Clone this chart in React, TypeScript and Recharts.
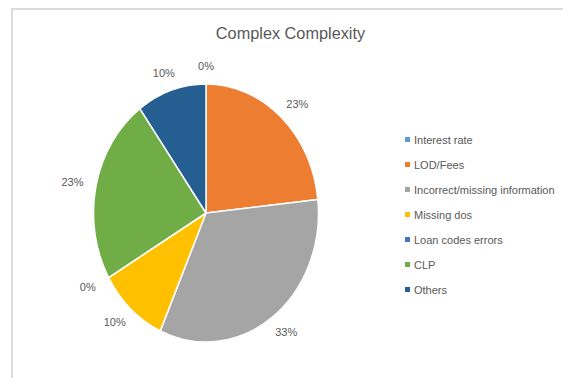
import React from "react";
import { PieChart, Pie, Cell, Legend } from "recharts";

const categories = [
  "Interest rate",
  "LOD/Fees",
  "Incorrect/missing information",
  "Missing dos",
  "Loan codes errors",
  "CLP",
  "Others",
];
const counts = [0, 7, 10, 3, 0, 7, 3];
const colors = ["#5B9BD5", "#ED7D31", "#A5A5A5", "#FFC000", "#4472C4", "#70AD47", "#255E91"];
const title = "Complex Complexity";

const data = categories.map((name, i) => ({ name, value: counts[i] }));

const Y_STRETCH = 1.147;
const FONT = "'Liberation Sans', Arial, sans-serif";
const RAD = Math.PI / 180;

const EllipseSector = (props: any) => {
  const { cx, cy, outerRadius, startAngle, endAngle, fill } = props;
  const rx = outerRadius;
  const ry = outerRadius * Y_STRETCH;
  const p = (a: number) => [cx + rx * Math.cos(a * RAD), cy - ry * Math.sin(a * RAD)];
  const [x1, y1] = p(startAngle);
  const [x2, y2] = p(endAngle);
  const span = Math.abs(endAngle - startAngle);
  const large = span > 180 ? 1 : 0;
  const sweep = startAngle > endAngle ? 1 : 0;
  const d = `M${cx},${cy} L${x1},${y1} A${rx},${ry} 0 ${large} ${sweep} ${x2},${y2} Z`;
  return <path d={d} fill={fill} stroke="#ffffff" strokeWidth={1.5} strokeLinejoin="round" />;
};

const renderLabel = (props: any) => {
  const { cx, cy, midAngle, outerRadius, percent } = props;
  const rx = outerRadius + 24;
  const ry = outerRadius * Y_STRETCH + 18;
  const x = cx + rx * Math.cos(midAngle * RAD);
  const y = cy - ry * Math.sin(midAngle * RAD);
  return (
    <g>
      <text
        x={x}
        y={y}
        textAnchor="middle"
        dominantBaseline="central"
        style={{ fill: "#595959", stroke: "none" }}
        fontSize={11}
        fontFamily={FONT}
      >
        {`${Math.round(percent * 100)}%`}
      </text>
    </g>
  );
};

const LegendContent = () => (
  <div style={{ fontFamily: FONT, fontSize: 11, color: "#595959" }}>
    {categories.map((c, i) => (
      <div key={c} style={{ display: "flex", alignItems: "center", height: 25 }}>
        <span
          style={{
            display: "inline-block",
            width: 5,
            height: 5,
            background: colors[i],
            marginRight: 4,
          }}
        />
        <span>{c}</span>
      </div>
    ))}
  </div>
);

export default function App() {
  return (
    <div style={{ position: "absolute", left: 0, top: 0, width: 563, height: 378, background: "#fff", overflow: "hidden" }}>
      <div
        style={{
          position: "absolute",
          left: 11,
          top: 8,
          width: 600,
          height: 400,
          borderTop: "2px solid #dcdcdc",
          borderLeft: "2px solid #dcdcdc",
        }}
      />
      <div
        style={{
          position: "absolute",
          left: 0,
          top: 24,
          width: 581,
          textAlign: "center",
          fontFamily: FONT,
          fontSize: 16.3,
          color: "#595959",
        }}
      >
        {title}
      </div>
      <div style={{ position: "absolute", left: 0, top: 0 }}>
        <PieChart width={563} height={378} margin={{ top: 0, right: 0, bottom: 0, left: 0 }}>
          <Pie
            data={data}
            dataKey="value"
            nameKey="name"
            cx={206}
            cy={213}
            outerRadius={112.5}
            startAngle={90}
            endAngle={-270}
            shape={EllipseSector}
            label={renderLabel}
            labelLine={false}
            isAnimationActive={false}
          >
            {data.map((d, i) => (
              <Cell key={d.name} fill={colors[i]} />
            ))}
          </Pie>
          <Legend
            layout="vertical"
            content={<LegendContent />}
            wrapperStyle={{ position: "absolute", left: 405, top: 127, width: 160 }}
          />
        </PieChart>
      </div>
    </div>
  );
}
